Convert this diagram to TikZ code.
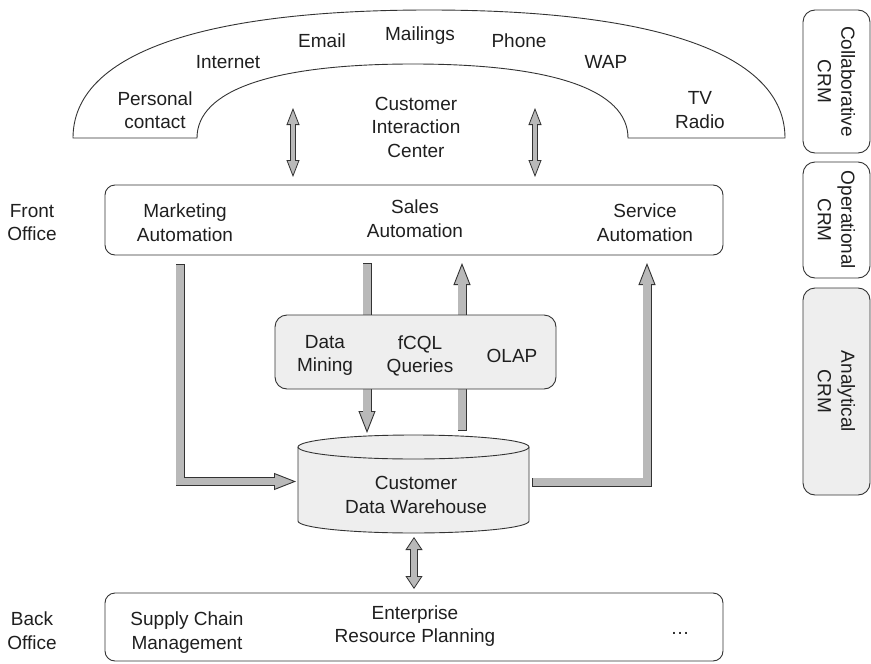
\documentclass[tikz,border=0pt]{standalone}
\usepackage{fontspec}
\setmainfont{Liberation Sans}
\usetikzlibrary{arrows.meta,calc}
\colorlet{pipegray}{gray!55}
\colorlet{boxgray}{gray!13}
\colorlet{edge}{black!80}
\tikzset{txt/.style={align=center,inner sep=0pt,text=black!88},
  panel/.style={draw=edge,line width=0.9pt,rounded corners=10pt},
  side/.style={panel,rounded corners=12pt,minimum width=67pt},
  pipe/.style={draw=edge,line width=9pt,line join=miter,
    -{Triangle[length=22pt,width=17pt,fill=pipegray,line width=0.9pt]},
    postaction={draw=pipegray,line width=7.2pt,-,shorten <=0.9pt,shorten >=20pt}},
  tube/.style={draw=edge,line width=6pt,
    arrows={Triangle[length=17pt,width=13pt,fill=pipegray,line width=0.8pt]-Triangle[length=17pt,width=13pt,fill=pipegray,line width=0.8pt]},
    postaction={draw=pipegray,line width=4.4pt,-,shorten <=15pt,shorten >=15pt}},
  link/.style={draw=edge,line width=8pt,
    arrows={Triangle[length=13pt,width=17pt,fill=pipegray,line width=0.8pt]-Triangle[length=13pt,width=17pt,fill=pipegray,line width=0.8pt]},
    postaction={draw=pipegray,line width=6.4pt,-,shorten <=11pt,shorten >=11pt}}}

\begin{document}
\begin{tikzpicture}[x=1pt,y=-1pt,font=\fontsize{19}{23.5}\selectfont]
\useasboundingbox (0,0) rectangle (871,664);
% channel arch
\draw[edge,line width=0.9pt] (73,138) .. controls (73,55) and (198,10) .. (429,10)
  .. controls (660,10) and (785,55) .. (785,138) -- (628,138)
  .. controls (628,90) and (553,64) .. (413,64)
  .. controls (273,64) and (197,90) .. (197,138) -- cycle;
\node[txt] (personal) at (155,110) {Personal\\contact};
\node[txt,anchor=base] (internet) at (228,68) {Internet};
\node[txt,anchor=base] (email) at (322,47) {Email};
\node[txt,anchor=base] (mailings) at (420,40) {Mailings};
\node[txt,anchor=base] (phone) at (519,47) {Phone};
\node[txt,anchor=base] (wap) at (606,68) {WAP};
\node[txt] (tvradio) at (700,110) {TV\\Radio};
\node[txt] (cic) at (416,127) {Customer\\Interaction\\Center};

% front office
\node[panel,minimum width=618pt,minimum height=70pt] (front) at (414,220) {};
\node[txt] (mkt) at (185,222.5) {Marketing\\Automation};
\node[txt] (sales) at (415,218.5) {Sales\\Automation};
\node[txt] (service) at (645,222.5) {Service\\Automation};
\node[txt] (frontoff) at (32,222.5) {Front\\Office};

\coordinate (cicL) at (293,108); \coordinate (frontL) at (293,177);
\coordinate (cicR) at (535,108); \coordinate (frontR) at (535,177);
\draw[tube] (cicL) -- (frontL);
\draw[tube] (cicR) -- (frontR);

% flows to and from the warehouse
\coordinate (mktS) at (180,264);   \coordinate (dwW) at (296,481.5);
\coordinate (salesS) at (367,263); \coordinate (dwN) at (367,433);
\coordinate (dwQ) at (462,431);    \coordinate (salesR) at (462,263);
\coordinate (dwE) at (532,482);    \coordinate (servS) at (647,263);
\draw[pipe] (mktS) |- (dwW);
\draw[pipe] (salesS) -- (dwN);
\draw[pipe] (dwQ) -- (salesR);
\draw[pipe] (dwE) -| (servS);

% analysis tools
\node[panel,fill=boxgray,rounded corners=12pt,minimum width=281pt,minimum height=74pt] (tools) at (415.5,352) {};
\node[txt] (mining) at (325,355.5) {Data\\Mining};
\node[txt] (fcql) at (420,356) {fCQL\\Queries};
\node[txt,anchor=base] (olap) at (512,362) {OLAP};

% warehouse
\draw[edge,line width=0.9pt,fill=boxgray] (298,447) -- (298,521)
  arc[start angle=180,end angle=360,x radius=115.5pt,y radius=12pt] -- (529,447)
  arc[start angle=0,end angle=180,x radius=115.5pt,y radius=12pt] -- cycle;
\draw[edge,line width=0.9pt] (298,447) arc[start angle=180,end angle=360,x radius=115.5pt,y radius=12pt];
\node[txt] (dw) at (416,495) {Customer\\Data Warehouse};

% back office
\node[panel,minimum width=618pt,minimum height=68pt] (back) at (414,627) {};
\node[txt] (scm) at (187,632.5) {Supply Chain\\Management};
\node[txt] (erp) at (415,626) {Enterprise\\Resource Planning};
\node[txt,anchor=base] (more) at (680,634) {\dots};
\node[txt] (backoff) at (32,630.5) {Back\\Office};
\coordinate (dwS) at (414,537); \coordinate (backN) at (414,589);
\draw[link] (dwS) -- (backN);

% CRM kinds
\node[side,minimum height=143pt] (collab) at (836.5,81.5) {};
\node[txt,rotate=-90] at (collab) {Collaborative\\CRM};
\node[side,minimum height=116pt] (oper) at (836.5,220) {};
\node[txt,rotate=-90] at (oper) {Operational\\CRM};
\node[side,fill=boxgray,minimum height=207pt] (anal) at (836.5,391.5) {};
\node[txt,rotate=-90] at (anal) {Analytical\\CRM};
\end{tikzpicture}
\end{document}
